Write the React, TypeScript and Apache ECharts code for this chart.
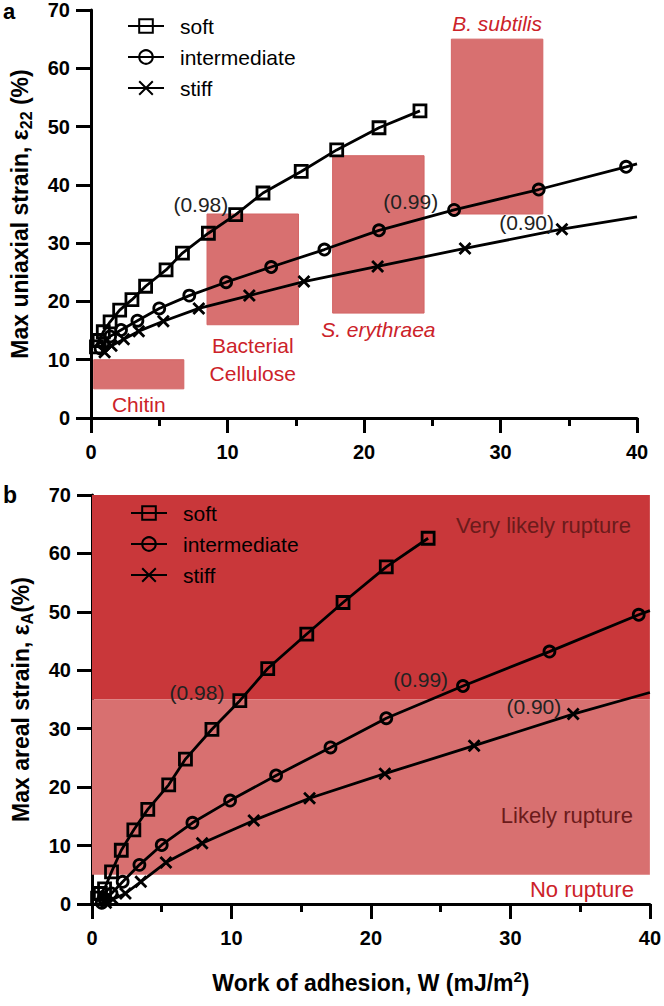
import React, { useEffect, useRef } from "react";
import * as echarts from "echarts";

const FONT = '"Liberation Sans", Arial, Helvetica, sans-serif';

// ---------- data ----------
const seriesNames = ["soft", "intermediate", "stiff"];

const softW = [0.4, 0.6, 0.9, 1.4, 2.1, 3.0, 4.0, 5.5, 6.7, 8.6, 10.6, 12.6, 15.4, 18.0, 21.1, 24.1];
const softUniaxial = [12.2, 13.3, 14.8, 16.5, 18.5, 20.3, 22.6, 25.4, 28.3, 31.7, 34.9, 38.6, 42.3, 46.0, 49.8, 52.7];
const softAreal = [1.0, 1.8, 2.6, 5.5, 9.2, 12.7, 16.2, 20.4, 24.8, 29.9, 34.8, 40.3, 46.2, 51.6, 57.7, 62.6];

const interW = [0.7, 0.9, 1.4, 2.2, 3.4, 5.0, 7.2, 9.9, 13.2, 17.1, 21.1, 26.6, 32.8, 39.2];
const interUniaxial = [11.9, 12.8, 14.0, 15.1, 16.7, 18.8, 21.0, 23.3, 25.9, 28.9, 32.2, 35.7, 39.2, 43.1];
const interAreal = [0.2, 0.8, 1.8, 3.8, 6.7, 10.1, 13.9, 17.7, 22.0, 26.8, 31.8, 37.3, 43.2, 49.5];

const stiffW = [1.0, 1.5, 2.4, 3.5, 5.3, 7.9, 11.6, 15.6, 21.0, 27.4, 34.5];
const stiffUniaxial = [11.3, 12.4, 13.5, 14.9, 16.6, 18.8, 21.0, 23.4, 26.0, 29.1, 32.4];
const stiffAreal = [0.2, 0.8, 1.8, 3.8, 7.1, 10.4, 14.3, 18.1, 22.3, 27.1, 32.5];

// fitted curves continue to W = 40
const fitEndW = 40;
const fitEndUniaxial = [null, 43.6, 34.5];
const fitEndAreal = [null, 50.2, 36.2];

// fit quality labels, attached to a point of each series
const fitLabels = ["(0.98)", "(0.99)", "(0.90)"];
const fitLabelIndex = [10, 11, 10];

// organism regions (panel a)
const regionNames = ["Chitin", "Bacterial\nCellulose", "S. erythraea", "B. subtilis"];
const regionW = [[0.2, 6.8], [8.5, 15.2], [17.7, 24.4], [26.4, 33.1]];
const regionStrain = [[5, 10], [16, 35], [18, 45], [35, 65]];

// rupture bands (panel b)
const bandNames = ["Very likely rupture", "Likely rupture", "No rupture"];
const bandW = [0, 40];
const bandStrain = [[35, 70], [5, 35], [0, 5]];

const xTicks = { min: 0, max: 40, interval: 10 };
const yTicks = { min: 0, max: 70, interval: 10 };

const RED_FILL = "#D87070";
const DARK_FILL = "#C9373A";
const RED_TEXT = "#CC2229";
const DARK_TEXT = "#6B1B1B";

const symbols = ["rect", "circle", "path://M0,0L10,10M10,0L0,10"];
const symbolSizes = [12, 11, 11];

function buildSeries(
  idx: number,
  grid: number,
  xs: number[],
  ys: number[],
  fitEnd: number | null,
  labelDist: number,
  labelOffY: number
) {
  const data: any[] = xs.map((x, i) => {
    const item: any = { value: [x, ys[i]] };
    if (i === fitLabelIndex[idx]) {
      item.label = {
        show: true,
        position: "left",
        distance: labelDist,
        offset: [0, labelOffY],
        formatter: fitLabels[idx],
        fontSize: 21,
        color: "#222",
        fontFamily: FONT,
      };
    }
    return item;
  });
  if (fitEnd !== null) data.push({ value: [fitEndW, fitEnd], symbol: "none" });
  return {
    type: "line",
    name: seriesNames[idx],
    xAxisIndex: grid,
    yAxisIndex: grid,
    data,
    symbol: symbols[idx],
    symbolSize: symbolSizes[idx],
    itemStyle: { color: "rgba(0,0,0,0)", borderColor: "#000", borderWidth: 2.8 },
    lineStyle: { color: "#000", width: 2.8 },
    emphasis: { disabled: true },
    z: 3,
  };
}

function xAxis(grid: number, name?: string) {
  return {
    type: "value",
    gridIndex: grid,
    ...xTicks,
    name: name || "",
    nameLocation: "middle",
    nameGap: 65,
    nameTextStyle: {
      fontFamily: FONT,
      rich: {
        b: { fontSize: 23, fontWeight: "bold", fontFamily: FONT, color: "#000", lineHeight: 28 },
        p: { fontSize: 15, fontWeight: "bold", fontFamily: FONT, color: "#000", verticalAlign: "top", lineHeight: 15 },
      },
    },
    axisLine: { show: true, onZero: false, lineStyle: { color: "#000", width: 3 } },
    axisTick: { show: true, length: 15, lineStyle: { color: "#000", width: 3 } },
    minorTick: { show: true, splitNumber: 2, length: 8, lineStyle: { color: "#000", width: 3 } },
    splitLine: { show: false },
    axisLabel: { fontSize: 20, fontWeight: "bold", color: "#000", fontFamily: FONT, margin: 24 },
  };
}

function yAxis(grid: number, name: string) {
  return {
    type: "value",
    gridIndex: grid,
    ...yTicks,
    name,
    nameLocation: "middle",
    nameGap: 57,
    nameTextStyle: {
      fontFamily: FONT,
      rich: {
        b: { fontSize: 23, fontWeight: "bold", fontFamily: FONT, color: "#000", lineHeight: 28 },
        s: { fontSize: 16, fontWeight: "bold", fontFamily: FONT, color: "#000", verticalAlign: "bottom", lineHeight: 16 },
      },
    },
    axisLine: { show: true, onZero: false, lineStyle: { color: "#000", width: 3 } },
    axisTick: { show: true, length: 15, lineStyle: { color: "#000", width: 3 } },
    splitLine: { show: false },
    axisLabel: { fontSize: 20, fontWeight: "bold", color: "#000", fontFamily: FONT, margin: 21 },
  };
}

function legend(left: number, top: number) {
  return {
    data: seriesNames,
    orient: "vertical",
    left,
    top,
    itemWidth: 36,
    itemHeight: 17,
    itemGap: 9,
    selectedMode: false,
    textStyle: { fontSize: 21, lineHeight: 22, color: "#000", fontFamily: FONT, padding: [0, 0, 0, 11] },
  };
}

export default function App() {
  const ref = useRef<HTMLDivElement>(null);

  useEffect(() => {
    if (!ref.current) return;
    const chart = echarts.init(ref.current, undefined, { renderer: "svg" });

    const regionDist = [3, 6, 4, 3];
    const regionAreaData = regionNames.map((n, i) => [
      {
        name: n,
        coord: [regionW[i][0], regionStrain[i][1]],
        label: {
          show: true,
          position: i === 3 ? "top" : "bottom",
          distance: regionDist[i],
          color: RED_TEXT,
          fontSize: 21,
          fontFamily: FONT,
          fontStyle: i >= 2 ? "italic" : "normal",
          lineHeight: i === 1 ? 28 : 24,
          align: "center",
        },
      },
      { coord: [regionW[i][1], regionStrain[i][0]] },
    ]);

    const bandFill = [DARK_FILL, RED_FILL, "rgba(0,0,0,0)"];
    const bandTextColor = [DARK_TEXT, DARK_TEXT, RED_TEXT];
    const bandTextRight = [19, 17, 16];
    const bandData = bandNames.map((_, i) => [bandW[0], bandW[1], bandStrain[i][0], bandStrain[i][1], i]);

    const renderBand = (params: any, api: any) => {
      const i = api.value(4);
      const p0 = api.coord([api.value(0), api.value(3)]);
      const p1 = api.coord([api.value(1), api.value(2)]);
      const w = p1[0] - p0[0];
      const h = p1[1] - p0[1];
      let ty: number;
      let va: string;
      if (i === 0) {
        ty = p0[1] + 19;
        va = "top";
      } else if (i === 1) {
        ty = p0[1] + h / 2 + 28;
        va = "middle";
      } else {
        ty = p0[1] + h / 2;
        va = "middle";
      }
      return {
        type: "group",
        children: [
          { type: "rect", shape: { x: p0[0], y: p0[1], width: w, height: h }, style: { fill: bandFill[i], stroke: "none", lineWidth: 0 } },
          {
            type: "text",
            x: p1[0] - bandTextRight[i],
            y: ty,
            style: {
              text: bandNames[i],
              fill: bandTextColor[i],
              fontSize: 22,
              fontFamily: FONT,
              align: "right",
              verticalAlign: va,
            },
          },
        ],
      };
    };

    const option: any = {
      animation: false,
      backgroundColor: "#fff",
      grid: [
        { left: 91, top: 8.5, width: 546, height: 409.5, containLabel: false },
        { left: 92, top: 495, width: 558, height: 409, containLabel: false },
      ],
      xAxis: [xAxis(0), xAxis(1, "{b|Work of adhesion, W (mJ/m}{p|2}{b|)}")],
      yAxis: [
        yAxis(0, "{b|Max uniaxial strain, ε}{s|22}{b| (%)}"),
        yAxis(1, "{b|Max areal strain, ε}{s|A}{b|(%)}"),
      ],
      legend: [legend(122, 10), legend(125, 497)],
      graphic: [
        { type: "text", x: 3, y: 0, style: { text: "a", fontSize: 22, lineHeight: 22, fontWeight: "bold", fontFamily: FONT, fill: "#000", verticalAlign: "top" } },
        { type: "text", x: 3, y: 483, style: { text: "b", fontSize: 23, lineHeight: 23, fontWeight: "bold", fontFamily: FONT, fill: "#000", verticalAlign: "top" } },
      ],
      series: [
        {
          type: "line",
          xAxisIndex: 0,
          yAxisIndex: 0,
          data: [],
          silent: true,
          z: 1,
          markArea: {
            silent: true,
            itemStyle: { color: RED_FILL, borderColor: "#D36565", borderWidth: 1 },
            data: regionAreaData,
          },
        },
        {
          type: "custom",
          xAxisIndex: 1,
          yAxisIndex: 1,
          data: bandData,
          encode: { x: [0, 1], y: [2, 3] },
          renderItem: renderBand,
          silent: true,
          clip: true,
          z: 1,
        },
        buildSeries(0, 0, softW, softUniaxial, fitEndUniaxial[0], 0, -10),
        buildSeries(1, 0, interW, interUniaxial, fitEndUniaxial[1], 9, -8),
        buildSeries(2, 0, stiffW, stiffUniaxial, fitEndUniaxial[2], 1, -7),
        buildSeries(0, 1, softW, softAreal, fitEndAreal[0], 8, -8),
        buildSeries(1, 1, interW, interAreal, fitEndAreal[1], 8, -7),
        buildSeries(2, 1, stiffW, stiffAreal, fitEndAreal[2], 5, -8),
      ],
    };
    chart.setOption(option);
    return () => chart.dispose();
  }, []);

  return (
    <div
      ref={ref}
      style={{ position: "absolute", left: 0, top: 0, width: 664, height: 1006 }}
    />
  );
}
